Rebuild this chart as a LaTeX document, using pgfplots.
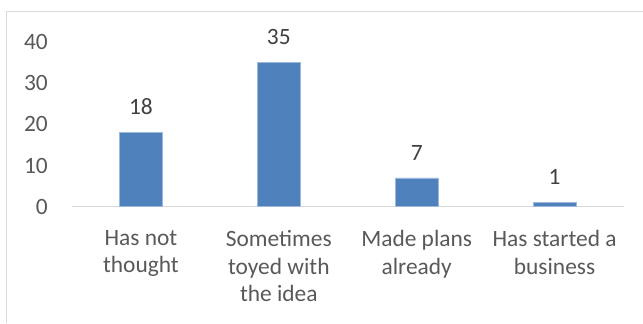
\documentclass[border=0pt]{standalone}
\usepackage{pgfplots}
\pgfplotsset{compat=1.18}
\usepackage{fontspec}
\setmainfont{Carlito}
\definecolor{barblue}{HTML}{4F81BD}
\definecolor{baredge}{HTML}{9DB7DD}
\definecolor{ticktext}{HTML}{595959}
\definecolor{labeltext}{HTML}{404040}
\definecolor{frame}{HTML}{D9D9D9}
\begin{document}
\begin{tikzpicture}[x=1bp,y=1bp]
\begin{axis}[
  at={(0,0)}, anchor=south west,
  scale only axis,
  width=552bp, height=165bp,
  ybar, bar width=43bp,
  xmin=-0.5, xmax=3.5,
  ymin=0, ymax=40,
  ytick={0,10,20,30,40},
  xtick=data,
  xticklabels={{Has not\\thought},{Sometimes\\toyed with\\the idea},{Made plans\\already},{Has started a\\business}},
  axis x line*=bottom,
  axis y line*=left,
  x axis line style={draw=frame, line width=1bp, -},
  y axis line style={draw=none},
  major tick length=0pt,
  tick label style={font=\fontsize{23.5}{28}\selectfont, text=ticktext, inner sep=0pt},
  xticklabel style={align=center, anchor=north, yshift=-23bp},
  yticklabel style={anchor=east, xshift=-24bp},
  /pgf/number format/assume math mode=true,
  nodes near coords,
  every node near coord/.append style={font=\fontsize{23.5}{28}\selectfont, text=labeltext, anchor=south, inner sep=0pt, yshift=17.6bp},
  clip=false,
]
\addplot[fill=barblue, draw=baredge, line width=0.75bp] coordinates {(0,18) (1,35) (2,7) (3,1)};
\end{axis}
% chart frame
\draw[frame, line width=1bp] (-65,-116) -- (-65,195.5) -- (571,195.5);
\path[use as bounding box] (-72,-116) rectangle (571,207);
\end{tikzpicture}
\end{document}
